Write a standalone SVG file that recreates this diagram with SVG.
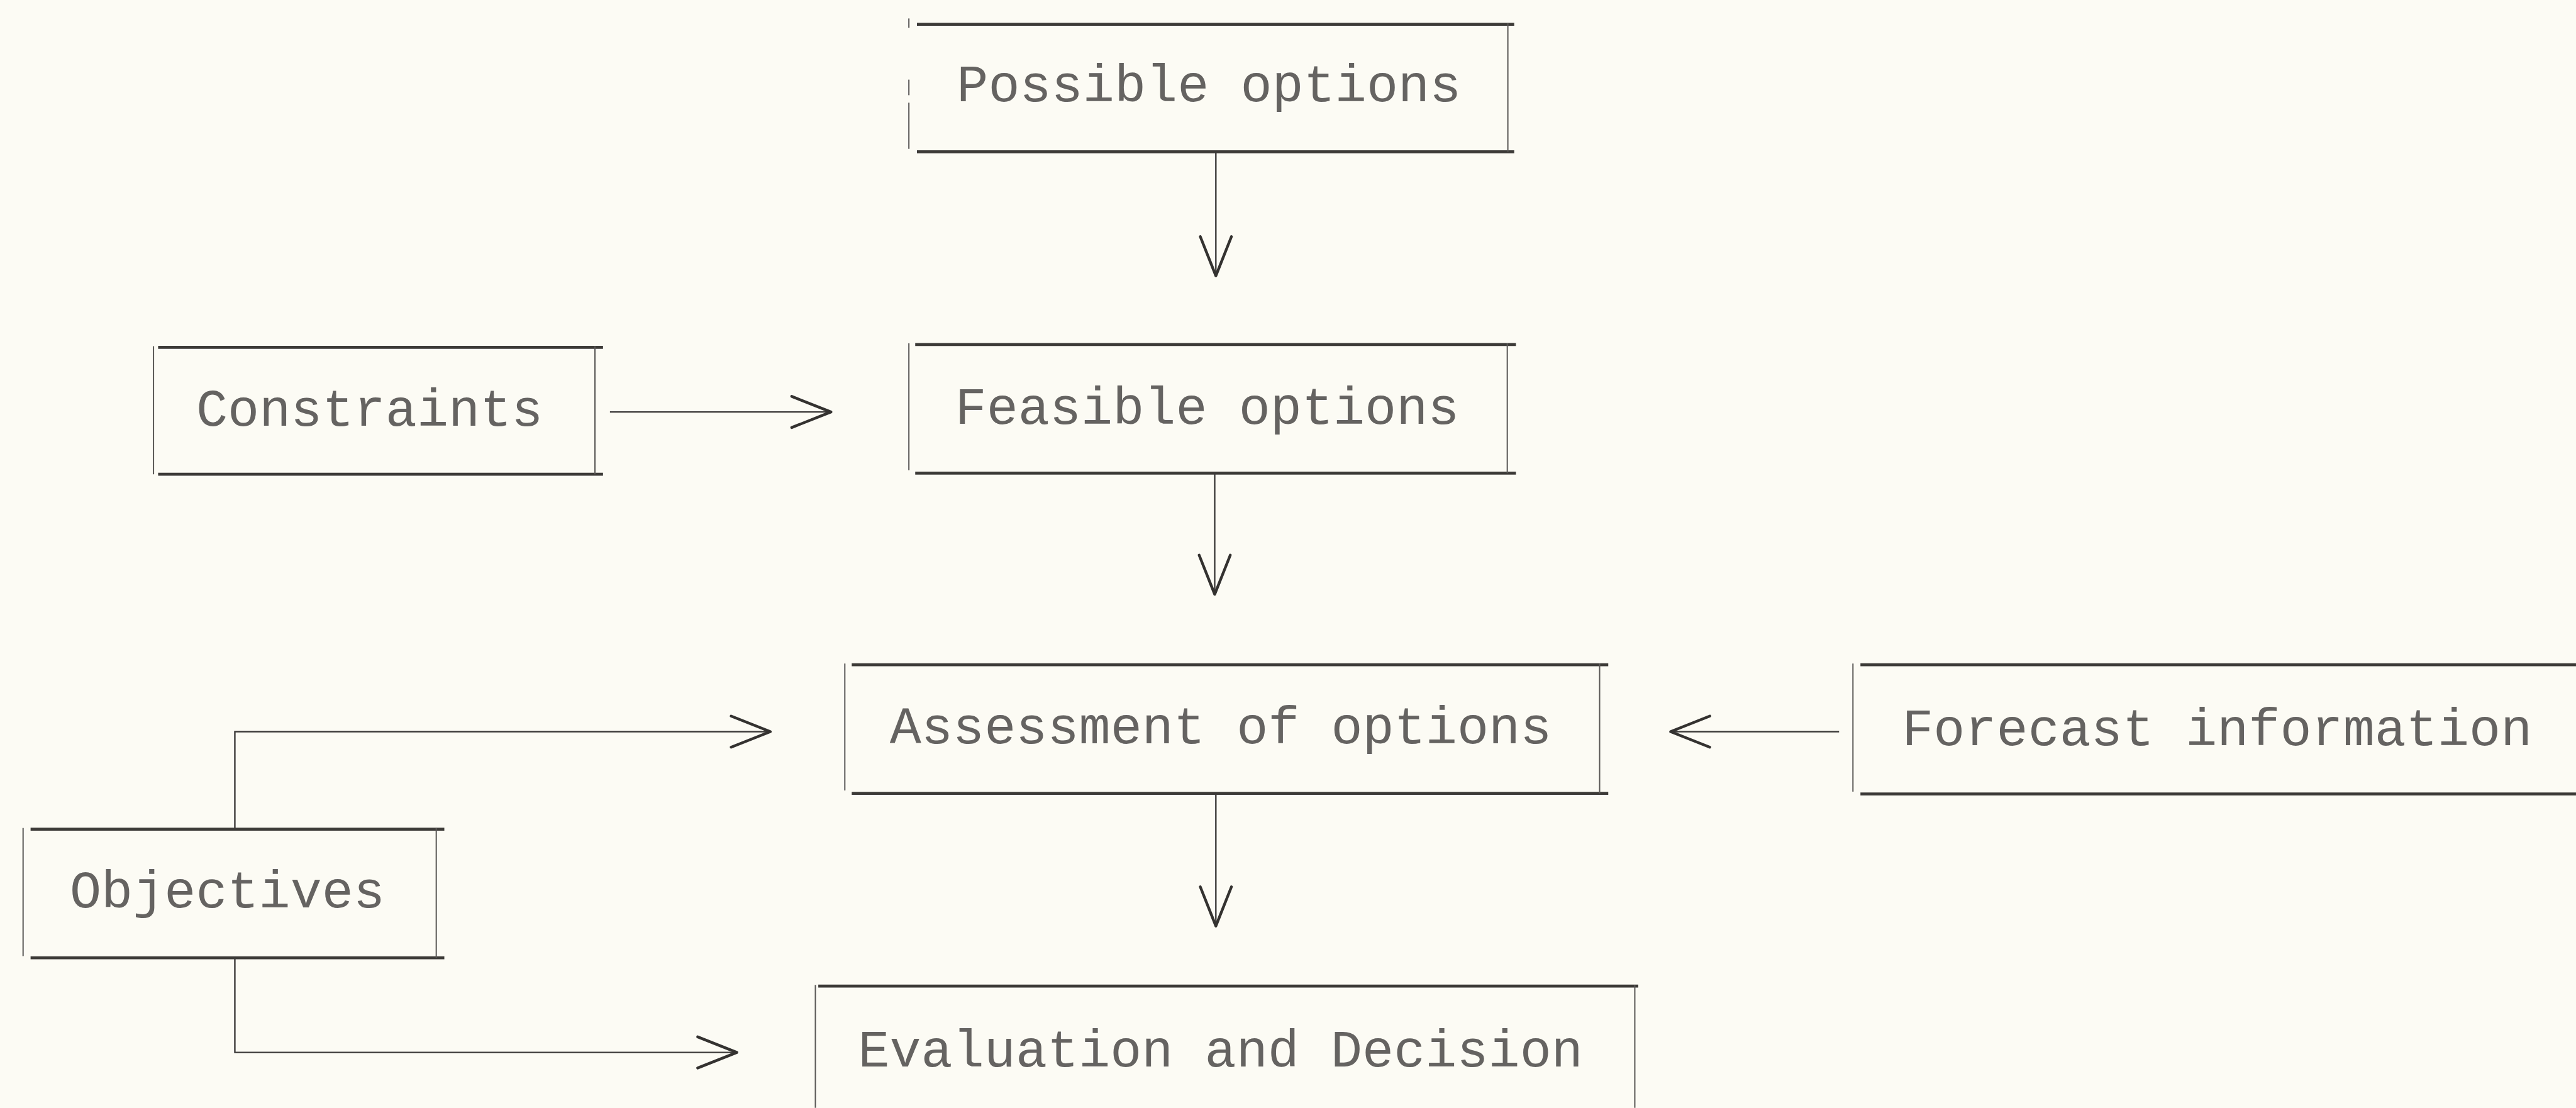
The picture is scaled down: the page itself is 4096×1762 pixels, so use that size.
<svg xmlns="http://www.w3.org/2000/svg" width="4096" height="1762" viewBox="0 0 4096 1762">
  <style>
    .hline { stroke: #3c3a37; stroke-width: 5.2; fill: none; }
    .vline { stroke: #5a5856; stroke-width: 2.2; fill: none; }
    .conn  { stroke: #3d3b3a; stroke-width: 2.6; fill: none; }
    .label { font-family: "Liberation Mono", "Courier New", monospace; font-size: 90px; fill: #656361; }
  </style>
  <defs>
    <!-- open V arrowhead, drawn in user units -->
    <marker id="vhead" markerUnits="userSpaceOnUse" viewBox="-76 -36 86 72" markerWidth="86" markerHeight="72" refX="0" refY="0" orient="auto" overflow="visible">
      <path d="M-68,-27 L0,0 L-68,27" fill="none" stroke="#343230" stroke-width="4.8" stroke-linecap="round" stroke-linejoin="round"/>
    </marker>
  </defs>
  <rect x="0" y="0" width="4096" height="1762" fill="#fcfbf4"/>

  <!-- drawing laid out in 4464 x 1920 units -->
  <g transform="scale(0.91756)">

    <g id="possible-options">
      <line class="hline" x1="1589" y1="42" x2="2624" y2="42"/>
      <line class="hline" x1="1589" y1="263" x2="2624" y2="263"/>
      <line class="vline" x1="1575" y1="32" x2="1575" y2="48"/>
      <line class="vline" x1="1575" y1="138" x2="1575" y2="165"/>
      <line class="vline" x1="1575" y1="178" x2="1575" y2="258"/>
      <line class="vline" x1="2613" y1="40" x2="2613" y2="263"/>
      <text class="label" x="1658" y="175" textLength="874" lengthAdjust="spacingAndGlyphs">Possible options</text>
    </g>

    <g id="constraints">
      <line class="hline" x1="274" y1="602" x2="1045" y2="602"/>
      <line class="hline" x1="274" y1="822" x2="1045" y2="822"/>
      <line class="vline" x1="266" y1="600" x2="266" y2="822"/>
      <line class="vline" x1="1031" y1="600" x2="1031" y2="822"/>
      <text class="label" x="340" y="738" textLength="601" lengthAdjust="spacingAndGlyphs">Constraints</text>
    </g>

    <g id="feasible-options">
      <line class="hline" x1="1586" y1="597" x2="2627" y2="597"/>
      <line class="hline" x1="1586" y1="820" x2="2627" y2="820"/>
      <line class="vline" x1="1575" y1="595" x2="1575" y2="815"/>
      <line class="vline" x1="2612" y1="595" x2="2612" y2="820"/>
      <text class="label" x="1655" y="735" textLength="874" lengthAdjust="spacingAndGlyphs">Feasible options</text>
    </g>

    <g id="assessment-of-options">
      <line class="hline" x1="1476" y1="1152" x2="2787" y2="1152"/>
      <line class="hline" x1="1476" y1="1375" x2="2787" y2="1375"/>
      <line class="vline" x1="1464" y1="1150" x2="1464" y2="1370"/>
      <line class="vline" x1="2772" y1="1150" x2="2772" y2="1375"/>
      <text class="label" x="1542" y="1288" textLength="1147" lengthAdjust="spacingAndGlyphs">Assessment of options</text>
    </g>

    <g id="forecast-information">
      <line class="hline" x1="3224" y1="1152" x2="4464" y2="1152"/>
      <line class="hline" x1="3224" y1="1376" x2="4464" y2="1376"/>
      <line class="vline" x1="3211" y1="1150" x2="3211" y2="1372"/>
      <text class="label" x="3296" y="1292" textLength="1092" lengthAdjust="spacingAndGlyphs">Forecast information</text>
    </g>

    <g id="objectives">
      <line class="hline" x1="53" y1="1437" x2="770" y2="1437"/>
      <line class="hline" x1="53" y1="1660" x2="770" y2="1660"/>
      <line class="vline" x1="40" y1="1435" x2="40" y2="1657"/>
      <line class="vline" x1="756" y1="1435" x2="756" y2="1660"/>
      <text class="label" x="121" y="1573" textLength="546" lengthAdjust="spacingAndGlyphs">Objectives</text>
    </g>

    <g id="evaluation-and-decision">
      <line class="hline" x1="1418" y1="1709" x2="2839" y2="1709"/>
      <line class="vline" x1="1413" y1="1707" x2="1413" y2="1920"/>
      <line class="vline" x1="2833" y1="1707" x2="2833" y2="1920"/>
      <text class="label" x="1487" y="1848" textLength="1256" lengthAdjust="spacingAndGlyphs">Evaluation and Decision</text>
    </g>

    <g id="connectors">
      <!-- Possible options -> Feasible options -->
      <line class="conn" x1="2107" y1="263" x2="2107" y2="478" marker-end="url(#vhead)"/>
      <!-- Constraints -> Feasible options -->
      <line class="conn" x1="1057" y1="714" x2="1440" y2="714" marker-end="url(#vhead)"/>
      <!-- Feasible options -> Assessment of options -->
      <line class="conn" x1="2105" y1="820" x2="2105" y2="1030" marker-end="url(#vhead)"/>
      <!-- Forecast information -> Assessment of options -->
      <line class="conn" x1="3187" y1="1268" x2="2895" y2="1268" marker-end="url(#vhead)"/>
      <!-- Assessment of options -> Evaluation and Decision -->
      <line class="conn" x1="2107" y1="1375" x2="2107" y2="1605" marker-end="url(#vhead)"/>
      <!-- Objectives -> Assessment of options -->
      <polyline class="conn" points="407,1437 407,1268 1335,1268" marker-end="url(#vhead)"/>
      <!-- Objectives -> Evaluation and Decision -->
      <polyline class="conn" points="407,1660 407,1824 1277,1824" marker-end="url(#vhead)"/>
    </g>
  </g>
</svg>
